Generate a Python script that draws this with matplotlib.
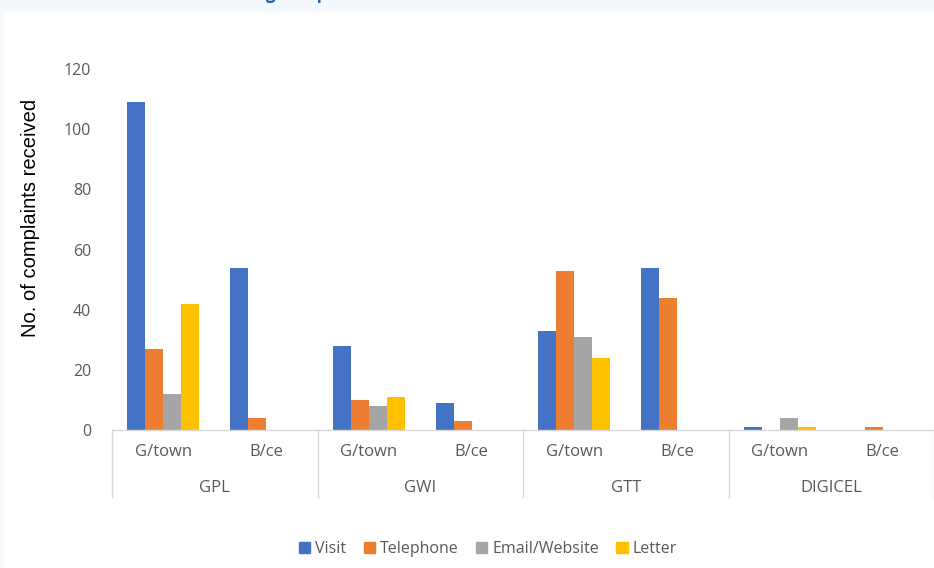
"""
Complaints received by method, office and utility
"""

import matplotlib
matplotlib.use("Agg")
import matplotlib.pyplot as plt
import matplotlib.patches as mpatches
import numpy as np

# -----------------------------------------------------------------------
# Data
# -----------------------------------------------------------------------
utilities = ["GPL", "GWI", "GTT", "DIGICEL"]
offices = ["G/town", "B/ce"]
methods = ["Visit", "Telephone", "Email/Website", "Letter"]

# one value per (utility, office) slot, in order GPL G/town, GPL B/ce, GWI G/town ...
visit     = [109, 54, 28, 9, 33, 54, 1, 0]
telephone = [27, 4, 10, 3, 53, 44, 0, 1]
email     = [12, 0, 8, 0, 31, 0, 4, 0]
letter    = [42, 0, 11, 0, 24, 0, 1, 0]

yticks = [0, 20, 40, 60, 80, 100, 120]

colors = ["#4472C4", "#ED7D31", "#A5A5A5", "#FFC000"]
grey_text = "#595959"
line_col = "#D9D9D9"
cat_font = "Open Sans"

# -----------------------------------------------------------------------
# Plot
# -----------------------------------------------------------------------
W, H = 934, 568
fig = plt.figure(figsize=(W / 100, H / 100), dpi=100)
fig.patch.set_facecolor("white")

# light blue page border (top band and left strip)
fig.patches.append(mpatches.Rectangle((0, 1 - 10 / H), 1, 10 / H, transform=fig.transFigure,
                                      color="#F3F9FC", zorder=0))
fig.patches.append(mpatches.Rectangle((0, 0), 3 / W, 1, transform=fig.transFigure,
                                      color="#F3F9FC", zorder=0))

# title sits above the visible area, only its descenders peek through
fig.text(98 / W, 1 + 1 / H, "Methods of Receiving Complaints", color="#1F5FA8",
         fontsize=12, fontweight="bold", family="Open Sans", va="baseline", ha="left")

left, right = 112 / W, 1.0
bottom, top = (H - 430) / H, (H - 69) / H
ax = fig.add_axes([left, bottom, right - left, top - bottom])

series = [visit, telephone, email, letter]
n_slots = len(utilities) * len(offices)
x = np.arange(n_slots) + 0.5
bw = 0.175
for i, (vals, name) in enumerate(zip(series, methods)):
    ax.bar(x + (i - 1.5) * bw, vals, width=bw, color=colors[i], label=name, zorder=2)

ax.set_xlim(0, n_slots)
ax.set_ylim(0, 120)
ax.set_yticks(yticks)
ax.set_yticklabels([str(v) for v in yticks], family=cat_font, fontsize=11.5, color=grey_text)
ax.tick_params(axis="y", length=0, pad=15)
ax.tick_params(axis="x", length=0, labelbottom=False)
for s in ["top", "right", "left"]:
    ax.spines[s].set_visible(False)
ax.spines["bottom"].set_color(line_col)
ax.spines["bottom"].set_linewidth(1.0)

ax.set_ylabel("No. of complaints received", family="Liberation Sans", fontsize=14.5,
              color="black")
ax.yaxis.set_label_coords(-0.0876, 0.587)

# two-level category axis
px = 1 / (430 - 69)  # one pixel in axes units (vertical)
for k in range(n_slots):
    ax.text(x[k], -22 * px, offices[k % 2], transform=ax.get_xaxis_transform(),
            ha="center", va="center", family=cat_font, fontsize=12, color=grey_text)
for g, name in enumerate(utilities):
    ax.text(g * 2 + 1, -58 * px, name, transform=ax.get_xaxis_transform(),
            ha="center", va="center", family=cat_font, fontsize=12, color=grey_text)
for g in range(len(utilities) + 1):
    ax.plot([g * 2, g * 2], [0, -67 * px], transform=ax.get_xaxis_transform(),
            color=line_col, lw=1.0, clip_on=False)

handles = [mpatches.Patch(color=colors[i], label=methods[i]) for i in range(4)]
leg = fig.legend(handles=handles, loc="center", bbox_to_anchor=(488 / W, 1 - 549 / H),
                 ncol=4, frameon=False, handlelength=0.7, handleheight=0.7,
                 handletextpad=0.3, columnspacing=1.1,
                 prop={"family": cat_font, "size": 11.5})
for t in leg.get_texts():
    t.set_color(grey_text)

plt.savefig("out.png", dpi=100)
